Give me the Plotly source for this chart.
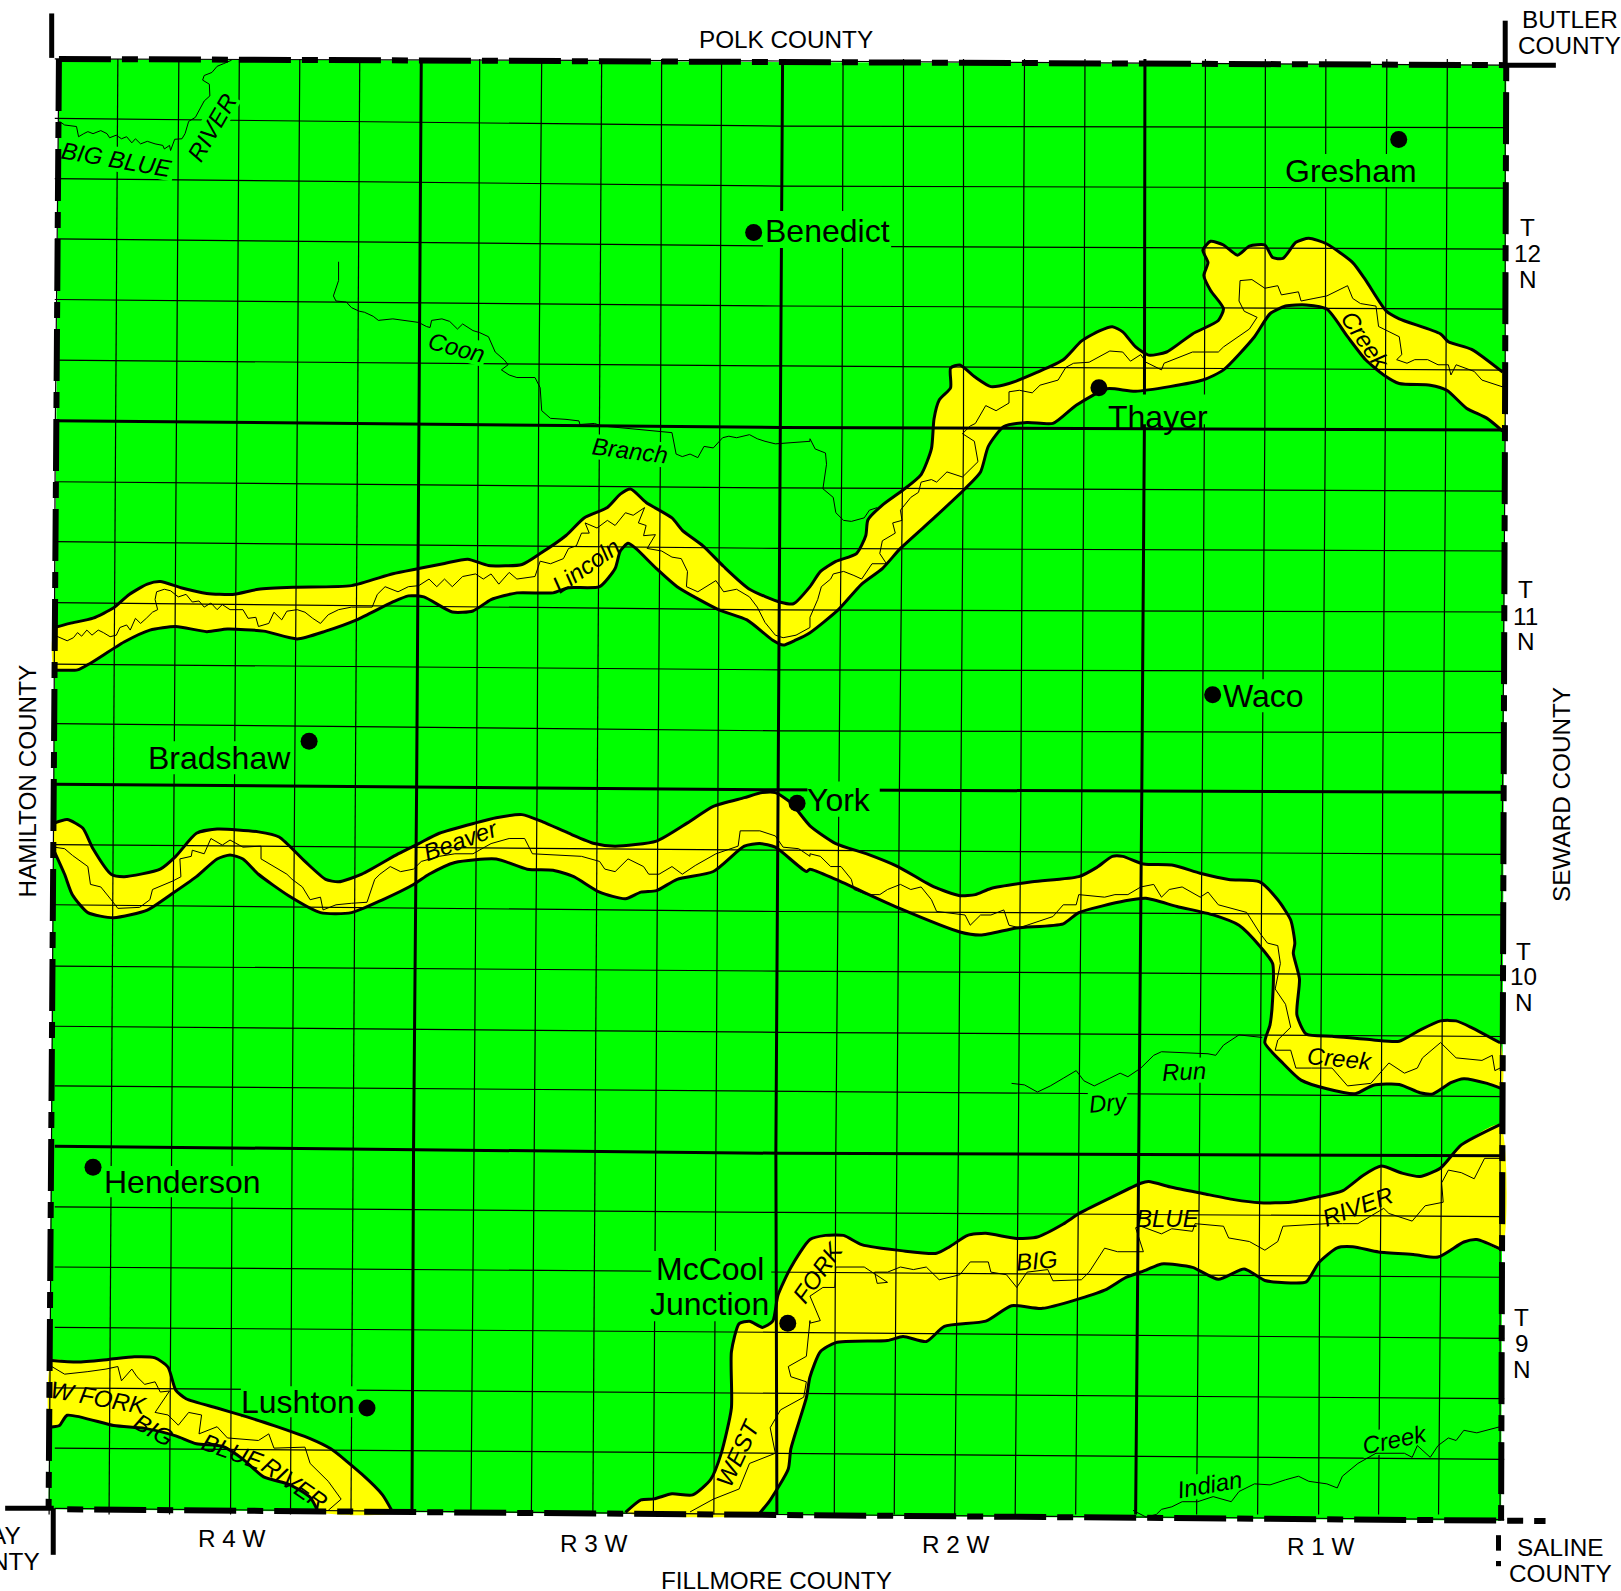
import math
import plotly.graph_objects as go

# Map units: 1568 x 1539 across the 1621 x 1591 picture
MAP_W, MAP_H = 1568, 1539
COUNTY = [(57, 57), (1457, 63), (1452, 1471), (47, 1460)]
GREEN, YELLOW = "#00ff00", "#ffff00"

# Section lines: x of each north-south line at five heights
NS_LEVELS = [57, 410, 762, 1114, 1465]
NS_X = [
    [57, 53.5, 52, 50, 47.5],
    [114, 112, 109.5, 107.5, 105.5],
    [173, 170.5, 168, 166, 164],
    [231.5, 229, 226.5, 224.5, 223],
    [290, 287.5, 285.5, 282.5, 281],
    [348, 346, 344, 341.5, 339.5],
    [407.5, 405.5, 403, 400, 398.5],
    [464, 462.5, 461, 458.5, 455.5],
    [524, 521, 519.5, 516.5, 514],
    [582, 580, 578, 575.5, 573.5],
    [640, 639, 636.5, 634, 632],
    [698, 696.5, 694.5, 692.5, 690.5],
    [757, 755, 753, 750.5, 751.5],
    [815.5, 814.5, 811.5, 808.5, 807],
    [874, 873.5, 870, 867.5, 865],
    [932, 932, 929.5, 927, 923.5],
    [991, 989.5, 987.5, 985, 982],
    [1049.5, 1048.5, 1046.5, 1043.5, 1040.5],
    [1107.5, 1107, 1104.5, 1101.5, 1098.5],
    [1166, 1165, 1163, 1160.5, 1157.5],
    [1224, 1223.5, 1221, 1219, 1216.5],
    [1282.5, 1282, 1279.5, 1277, 1275.5],
    [1341.5, 1340, 1337.5, 1336, 1333.5],
    [1400, 1398.5, 1396, 1394.5, 1391.5],
    [1456, 1456, 1453.5, 1451, 1451],
]
NS_THICK = [6, 12, 18]

# East-west lines: y at the west edge, the middle, and the east edge
EW_WEST = [57, 114.5, 172.7, 231, 289.7, 348.4, 407, 466, 524, 583, 642.5, 700, 758.5,
           817, 875.2, 934.5, 992.7, 1050.4, 1108.7, 1167.4, 1225.6, 1284, 1342.6, 1400.8, 1459]
EW_MID = [59, 122, 180, 238, 296, 354, 413.5, 472, 530.5, 590, 648, 707, 764,
          822.4, 881.7, 939.4, 998.6, 1055.4, 1115.6, 1172.8, 1230.6, 1288.8, 1348, 1405.8, 1465]
EW_EAST = [63, 123.4, 182, 241, 299, 358, 416, 475, 533, 592, 649.5, 708.7, 766.4,
           826.4, 885, 943.3, 1002.6, 1060.8, 1118, 1176.8, 1235.5, 1294.7, 1353, 1411.7, 1470]
EW_THICK = [6, 12, 18]

# Bottomland belts
LINCOLN_UP = [(52.5,607),(67.5,603),(90,598),(110,588),(125,575),(142.5,565),(155,562.6),(175,568.5),(200,574),(225,575),(250,570),(285,568),(340,566.5),(380,555),(405,550),(430,545),(452.5,541),(472.5,547),(505,546),(522.5,535.5),(547.5,518),(565,501),(587.5,491),(600,478),(610,473),(625,486),(650,501),(660,513),(680,528),(700,548),(725,570),(755,582.5),(767.5,584),(783.5,567.5),(793.5,553),(808.5,543),(828.5,535.5),(837.5,518),(839.5,503),(853.5,488.6),(873.5,474),(891,459),(901,434),(903.5,405),(908.5,387),(919.5,375),(919.5,356),(928.5,353),(943.5,365),(958.5,374),(976,371),(1003.5,360),(1028.5,348),(1046,330),(1063.5,320),(1076,316),(1086,321),(1098.5,335.6),(1111,343.5),(1128.5,340.5),(1153.5,323),(1178.5,310),(1183.5,298.6),(1171,281),(1164.5,266.5),(1168.5,254),(1163.5,242),(1171,233.4),(1183.5,237),(1197,246.8),(1208.5,238),(1223.5,237),(1231,249),(1241,250),(1253.5,234.4),(1266,230.5),(1283.5,236),(1308.5,254),(1321,271),(1341,301),(1353.5,308.4),(1393.5,323),(1401,330.6),(1423.5,338),(1453.5,360)]
LINCOLN_LOW = [(1453.5,417),(1438.5,404.7),(1418.5,394.8),(1399.5,377.5),(1383.5,372.6),(1353.5,371),(1338.5,362.7),(1321,348),(1303.5,325.7),(1283.5,299),(1263.5,295),(1243.5,296),(1228.5,303.5),(1213.5,325.7),(1183.5,357.8),(1163.5,367.6),(1098.5,378.5),(1071,376),(1041,392),(1018.5,409.6),(993.5,408.6),(971,412.6),(956,431.8),(948.5,456.5),(933.5,472.8),(903.5,501),(871,530.5),(853.5,550),(833.5,565),(811,589.7),(783.5,612),(770,619),(757.5,624),(747.5,619.3),(722.5,599.6),(695,589.7),(655,567.5),(635,550),(615,530.5),(607.5,525.6),(600,533),(595,550),(580,567.5),(550,568.5),(535,573.5),(500,573.5),(475,580),(457.5,591),(437.5,592),(410,577.4),(395,576.4),(380,582.3),(345,599.6),(315,610.5),(287.5,618),(255,610.5),(220,608.5),(200,611),(170,606),(145,609.5),(120,621),(87.5,641.5),(75,648),(52.5,648)]
BEAVER_UP = [(52.5,796.3),(65,792.8),(80,801),(90,821),(107.5,845.6),(120,848),(155,840.7),(170,828.4),(190,806),(210,802),(250,804.7),(270,809.6),(295,833.3),(315,850.6),(327.5,853),(350,845.6),(385,826),(405,816),(425,806),(460,796),(480,791),(505,788),(525,795),(550,806),(575,816),(595,818.5),(635,813.6),(665,796),(690,780),(720,771.6),(737.5,766.7),(750,766.7),(765,776.5),(783.5,798.8),(808.5,816),(838.5,826),(868.5,838.3),(903.5,858),(928.5,866.4),(943.5,865.4),(958.5,859.4),(998.5,853),(1043.5,848),(1061,839),(1076,828.4),(1086,828.4),(1106,835.8),(1133.5,836.8),(1161,844.7),(1188.5,850.7),(1218.5,853),(1236,870.4),(1248.5,890),(1252.5,912.4),(1251,922),(1257,947),(1254.5,981.6),(1263.5,1000.3),(1288.5,1002.4),(1328.5,1006),(1353.5,1007.2),(1373.5,996.4),(1393.5,987.5),(1408.5,987.5),(1423.5,994),(1451,1008.7)]
BEAVER_LOW = [(1452.5,1053),(1438.5,1048),(1416,1043.4),(1403.5,1047.3),(1386,1058.2),(1373.5,1057),(1353.5,1049),(1328.5,1049.7),(1311,1058),(1283.5,1053.2),(1258.5,1044.8),(1241,1028.5),(1223.5,1008.7),(1228.5,991.4),(1231,966.7),(1231,932),(1218.5,915),(1198.5,895),(1173.5,885),(1138.5,876.8),(1108.5,869),(1088.5,871.4),(1043.5,882.8),(1028.5,893.6),(983.5,897.6),(948.5,904.5),(928.5,901.5),(868.5,878),(808.5,850.7),(783.5,840.8),(780,843),(750,819.5),(735,816),(720,818.5),(690,843),(655,850.6),(635,861.5),(620,863),(605,869.4),(580,863),(555,848),(535,841.8),(510,840.8),(480,830.9),(440,834.3),(415,845.7),(400,855.6),(370,870.4),(340,882.8),(310,882.8),(280,867),(250,845.7),(235,830.9),(222.5,827),(210,830.9),(190,848),(165,865.5),(142.5,880.3),(110,887.7),(85,882.8),(70,865.5),(62.5,845.7),(52.5,823.5)]
WESTFORK_UP = [(605,1463),(620,1450.9),(632.5,1449.9),(650,1445),(670,1446),(687.5,1431),(697.5,1406.4),(707.5,1362),(707.5,1307.6),(715,1280.4),(725,1278),(737.5,1284),(747.5,1278),(752.5,1253),(765,1226),(783.5,1199),(798.5,1195),(816,1195),(833.5,1204),(873.5,1210),(906,1212.3),(918.5,1206),(936,1195),(953.5,1193),(983.5,1198),(1003.5,1196.5),(1028.5,1184),(1043.5,1174),(1073.5,1159),(1103.5,1144.6),(1111,1143),(1133.5,1148.5),(1163.5,1154.5),(1193.5,1160.4),(1218.5,1163.4),(1248.5,1163),(1273.5,1158),(1298.5,1152),(1318.5,1137),(1336,1128),(1356,1134.7),(1373.5,1138),(1393.5,1129.8),(1413.5,1107.5),(1451,1087.8)]
WESTFORK_LOW = [(1452.5,1208.8),(1428.5,1199),(1416,1201.4),(1391,1216),(1368.5,1213.7),(1333.5,1211),(1308.5,1206),(1293.5,1207),(1276,1221),(1263.5,1240),(1248.5,1241),(1223.5,1238.6),(1203.5,1227.6),(1178.5,1237.5),(1153.5,1226),(1123.5,1222.6),(1108.5,1228.6),(1088.5,1236),(1068.5,1248),(1008.5,1265.6),(978.5,1263),(953.5,1278),(913.5,1283),(896,1297.7),(873.5,1292.8),(858.5,1296.7),(808.5,1298.7),(793.5,1307.6),(783.5,1332),(780,1352),(765,1401.5),(762.5,1421),(745,1451),(734,1464.7)]
SWCORNER_UP = [(50,1316),(75,1317.5),(105,1315),(130,1312.5),(150,1313.5),(162.5,1322.4),(170,1344.6),(180,1353),(210,1362),(235,1369.4),(265,1379),(300,1391.6),(320,1401.5),(350,1426),(370,1446),(380,1463)]
SWCORNER_LOW = [(307.5,1462),(300,1448.4),(280,1436),(255,1428.6),(235,1411.4),(215,1399),(190,1396.6),(170,1389),(140,1381.7),(110,1379),(65,1369),(57.5,1379),(48.5,1380.6)]
BELTS = [(LINCOLN_UP, LINCOLN_LOW), (BEAVER_UP, BEAVER_LOW), (WESTFORK_UP, WESTFORK_LOW), (SWCORNER_UP, SWCORNER_LOW)]

# Streams, as (panel origin, points read in half-scale panel units)
NW, NE, SW, SE = (0, 0), (783.5, 0), (0, 764.2), (783.5, 764.2)
STREAM_BIGBLUE = [(NW, [(115,238),(125,245),(148,248),(152,268),(162,262),(170,258),(180,262),(195,256),(207,262),(212,270),(225,265),(235,272),(245,268),(255,280),(262,272),(272,282),(285,277),(300,282),(315,285),(318,292),(328,285),(330,295),(338,273),(352,272),(358,262),(365,238),(378,230),(388,212),(395,198),(406,188),(405,165),(392,157),(395,148),(410,142),(420,130),(432,125),(448,118)])]
STREAM_COON = [(NW, [(655,513),(655,550),(645,580),(650,590),(670,592),(680,603),(695,610),(705,612),(722,620),(732,628),(760,625),(810,632),(825,640),(832,642),(835,628),(855,625),(870,630),(885,645),(895,635),(915,648),(928,652),(945,660),(958,690),(975,705),(983,715),(970,725),(985,735),(1000,740),(1035,740),(1045,760),(1048,805),(1065,820),(1095,822),(1120,825),(1122,832),(1150,830),(1165,835),(1195,838),(1240,842),(1300,848),(1308,890),(1320,895),(1335,890),(1350,897),(1362,875),(1380,878),(1398,858),(1410,855),(1425,858),(1450,852),(1465,860),(1480,865),(1500,870),(1567,865)]),
               (NE, [(0,860),(10,880),(30,888),(32,910),(25,958),(45,975),(50,1005),(65,1020),(80,1022),(105,1015),(115,1000),(130,995)])]
STREAM_LINCOLN = [(NW, [(105,1245),(118,1250),(130,1256),(142,1250),(150,1240),(158,1247),(168,1235),(178,1245),(190,1235),(200,1240),(213,1248),(225,1245),(232,1230),(245,1225),(252,1235),(262,1212),(272,1222),(283,1212),(295,1200),(305,1195),(300,1175),(303,1160),(318,1155),(330,1158),(345,1170),(360,1165),(372,1180),(385,1178),(395,1190),(408,1182),(420,1195),(430,1185),(445,1195),(470,1195),(480,1212),(495,1210),(500,1228),(520,1222),(530,1200),(545,1215),(555,1198),(575,1195),(590,1200),(605,1212),(620,1222),(635,1205),(655,1195),(680,1190),(720,1190),(730,1165),(745,1150),(770,1160),(790,1150),(810,1148),(830,1135),(845,1150),(860,1135),(875,1150),(895,1130),(920,1125),(935,1135),(950,1125),(965,1145),(985,1122),(1000,1135),(1035,1130),(1045,1100),(1065,1105),(1090,1095),(1100,1075),(1115,1070),(1125,1045),(1140,1045),(1132,1025),(1155,1035),(1175,1020),(1190,1030),(1210,1005),(1225,1010),(1247,995),(1235,1025),(1250,1030),(1245,1050),(1268,1048),(1252,1075),(1280,1080),(1300,1092),(1318,1095),(1330,1120),(1328,1150),(1350,1160),(1385,1138),(1400,1160),(1425,1155),(1450,1170),(1465,1190),(1480,1220),(1500,1245),(1515,1250),(1540,1245),(1567,1230)]),
                  (NE, [(0,1210),(15,1175),(22,1150),(40,1135),(45,1125),(65,1120),(85,1128),(100,1135),(120,1105),(148,1105),(135,1085),(140,1060),(165,1045),(160,1025),(178,1020),(175,1000),(195,975),(210,965),(215,945),(235,940),(245,945),(265,925),(295,935),(325,905),(318,865),(295,850),(310,835),(320,830),(340,795),(360,805),(385,790),(385,768),(405,765),(430,770),(445,755),(480,745),(495,720),(510,712),(540,710),(580,688),(605,690),(620,708),(640,695),(650,710),(680,725),(685,712),(740,690),(790,690),(800,680),(850,645),(865,622),(840,610),(830,590),(832,550),(855,548),(880,565),(905,560),(912,578),(945,572),(950,590),(975,585),(1000,580),(1040,560),(1050,585),(1065,595),(1095,600),(1100,640),(1140,660),(1145,695),(1135,705),(1155,712),(1170,705),(1195,705),(1215,715),(1235,715),(1240,735),(1250,715),(1285,728),(1300,745),(1345,760)])]
STREAM_BEAVER = [(SW, [(105,112),(125,115),(140,128),(170,150),(175,185),(195,190),(215,215),(228,232),(270,230),(290,215),(295,195),(320,185),(335,178),(350,170),(348,135),(370,130),(372,118),(395,125),(408,95),(430,108),(445,98),(470,112),(505,110),(505,135),(530,150),(555,165),(565,175),(585,190),(600,215),(620,210),(625,235),(650,225),(680,222),(710,220),(725,175),(735,165),(755,150),(775,160),(800,155),(815,140),(850,130),(880,125),(915,125),(950,105),(985,95),(1015,95),(1030,125),(1080,128),(1125,130),(1160,140),(1170,155),(1190,160),(1215,135),(1245,150),(1255,165),(1275,165),(1300,150),(1320,165),(1345,148),(1385,125),(1428,110),(1432,80),(1470,80),(1500,90),(1515,112),(1545,115),(1567,130)]),
                 (SE, [(0,125),(20,130),(40,150),(60,150),(80,175),(85,195),(110,205),(135,205),(150,195),(175,185),(195,195),(215,190),(235,215),(245,238),(300,245),(310,265),(330,245),(350,245),(375,235),(385,265),(405,270),(470,248),(490,225),(515,225),(520,205),(570,210),(590,205),(615,205),(640,190),(665,185),(680,210),(695,195),(720,190),(755,210),(770,200),(790,225),(845,240),(870,280),(885,300),(905,305),(910,340),(900,390),(920,420),(930,465),(905,490),(900,510),(930,510),(940,545),(970,545),(1010,545),(1040,580),(1085,575),(1120,535),(1150,555),(1175,545),(1185,525),(1220,495),(1250,525),(1300,530),(1320,520),(1325,550),(1335,545)])]
STREAM_DRY = [(SE, [(390,575),(415,578),(440,592),(465,580),(490,565),(515,550),(530,570),(550,580),(580,565),(600,555),(615,562),(640,545),(665,520),(680,513),(770,517),(785,520),(800,500),(830,480),(875,485)])]
STREAM_BLUE = [(SE, [(1335,722),(1305,722),(1285,762),(1260,750),(1235,745),(1222,770),(1225,808),(1190,815),(1165,845),(1145,838),(1120,830),(1110,820),(1060,850),(1030,850),(1000,850),(915,855),(905,885),(880,902),(850,885),(810,878),(800,855),(745,850),(740,865),(700,860),(680,870),(640,855),(630,858),(645,905),(595,905),(570,898),(540,945),(525,960),(470,962),(460,940),(420,945),(400,975),(380,950),(350,945),(345,925),(310,925),(290,950),(250,960),(225,935),(200,940),(175,935),(150,945),(125,945),(130,967),(150,965),(105,935),(90,935),(50,935),(48,975),(25,975),(0,992),(20,1040),(0,1045)]),
               (SW, [(1567,1040),(1560,1110),(1525,1130),(1530,1150),(1560,1160),(1555,1190),(1510,1215),(1490,1250),(1500,1300),(1450,1320),(1430,1370),(1380,1390),(1335,1415)])]
STREAM_WFORK = [(SW, [(100,1130),(125,1145),(170,1140),(205,1135),(228,1130),(235,1158),(255,1135),(265,1150),(280,1165),(300,1160),(310,1180),(328,1178),(300,1220),(325,1225),(345,1245),(365,1220),(390,1225),(385,1262),(420,1248),(440,1270),(500,1275),(520,1262),(530,1290),(590,1288),(600,1320),(635,1355),(660,1390),(635,1412)])]
STREAM_INDIAN = [(SE, [(625,1412),(650,1425),(670,1420),(680,1410),(700,1405),(720,1395),(750,1395),(780,1385),(815,1395),(830,1375),(860,1360),(890,1362),(920,1352),(945,1345),(965,1355),(1000,1360),(1020,1368),(1030,1345),(1060,1320),(1095,1300),(1150,1300),(1165,1308),(1175,1285),(1200,1308),(1215,1285),(1235,1270),(1250,1275),(1265,1255),(1290,1260),(1335,1248)])]
STREAMS = [STREAM_BIGBLUE, STREAM_COON, STREAM_LINCOLN, STREAM_BEAVER, STREAM_DRY, STREAM_BLUE, STREAM_WFORK, STREAM_INDIAN]

# Towns: name, label x, label y, dot x, dot y
TOWNS = [
    ("Gresham", 1307, 165, 1353, 135), ("Benedict", 800, 223, 729, 225),
    ("Thayer", 1120, 403, 1063, 375), ("Waco", 1222, 673, 1173, 672),
    ("Bradshaw", 212, 733, 299, 717), ("York", 812, 774, 771, 777),
    ("Henderson", 177, 1143, 90, 1129), ("McCool", 687, 1228, 762, 1280),
    ("Lushton", 288, 1356, 355, 1362),
]
EXTRA_TOWN_LINES = [("Junction", 686, 1261)]

# Plain labels: text, x, y, angle
PLAIN = [
    ("POLK COUNTY", 760, 38, 0), ("FILLMORE COUNTY", 751, 1529, 0),
    ("BUTLER", 1519, 19, 0), ("COUNTY", 1518, 44, 0),
    ("HAMILTON COUNTY", 27, 755, -90), ("SEWARD COUNTY", 1511, 769, -90),
    ("SALINE", 1509, 1497, 0), ("COUNTY", 1509, 1522, 0),
    ("T", 1478, 220, 0), ("12", 1478, 245, 0), ("N", 1478, 270, 0),
    ("T", 1476, 570, 0), ("11", 1476, 596, 0), ("N", 1476, 621, 0),
    ("T", 1474, 920, 0), ("10", 1474, 945, 0), ("N", 1474, 970, 0),
    ("T", 1472, 1274, 0), ("9", 1472, 1300, 0), ("N", 1472, 1325, 0),
    ("R 4 W", 224, 1488, 0), ("R 3 W", 575, 1493, 0), ("R 2 W", 925, 1494, 0), ("R 1 W", 1278, 1496, 0),
    ("AY", 5, 1485, 0), ("NTY", 15, 1510, 0),
]
# Water labels: text, x, y, angle
WATER = [
    ("BIG BLUE", 113, 154, 10), ("RIVER", 205, 123, -60), ("Coon", 442, 336, 15),
    ("Branch", 609, 436, 7), ("Lincoln", 567, 547, -35), ("Creek", 1321, 329, 55),
    ("Beaver", 445, 813, -20), ("Creek", 1296, 1024, 5), ("Run", 1145, 1036, -3),
    ("Dry", 1072, 1066, -5), ("BIG", 1003, 1219, -5), ("BLUE", 1130, 1179, 0),
    ("RIVER", 1313, 1167, -20), ("FORK", 791, 1231, -55), ("WEST", 714, 1405, -65),
    ("W FORK", 95, 1352, 10), ("BIG", 148, 1383, 30), ("BLUE", 225, 1404, 20),
    ("RIVER", 285, 1435, 35), ("Indian", 1170, 1436, -10), ("Creek", 1349, 1392, -12),
]
# Knock-outs round labels: cx, cy, width, height, angle
MASKS = [
    (1307, 165, 130, 32, 0), (800, 222, 124, 36, 0), (1120, 396, 98, 29, 0),
    (1223, 673, 80, 32, 0), (212, 733, 140, 32, 0), (816, 773, 70, 34, 0),
    (177, 1143, 152, 30, 0), (688, 1244, 116, 68, 0), (289, 1356, 112, 30, 0),
    (113, 154, 112, 24, 10), (205, 123, 72, 24, -60), (442, 336, 58, 24, 15),
    (609, 436, 78, 24, 7), (1145, 1036, 46, 24, -3), (1072, 1066, 38, 24, -5),
    (1170, 1436, 66, 24, -10), (1349, 1392, 66, 24, -12),
]

# Frame pieces
TICKS = [
    [(50, 13), (50, 56)], [(1456, 20), (1456, 63)], [(1456, 63), (1505, 63)],
    [(5, 1459), (52, 1459)], [(51.5, 1459), (51.5, 1504)],
    [(1449.5, 1485), (1449.5, 1500)], [(1449.5, 1510), (1449.5, 1515)],
]


def panel(points):
    xs, ys = [], []
    for origin, pts in points:
        for px, py in pts:
            xs.append(origin[0] + px * 0.5)
            ys.append(origin[1] + py * 0.4935)
    return xs, ys


fig = go.Figure()


def line(xs, ys, width, dash=None, color="black", smooth=False):
    style = dict(color=color, width=width, dash=dash)
    if smooth:
        style.update(shape="spline", smoothing=0.6)
    fig.add_trace(go.Scatter(x=xs, y=ys, mode="lines", hoverinfo="skip", line=style))


def fill(pts, color, smooth=False):
    xs = [p[0] for p in pts] + [pts[0][0]]
    ys = [p[1] for p in pts] + [pts[0][1]]
    style = dict(width=0, color=color)
    if smooth:
        style.update(shape="spline", smoothing=0.6)
    fig.add_trace(go.Scatter(x=xs, y=ys, mode="lines", fill="toself", fillcolor=color,
                             hoverinfo="skip", line=style))


fill(COUNTY, GREEN)
for up, low in BELTS:
    fill(up + low, YELLOW, smooth=True)

for i, col in enumerate(NS_X):
    line(col, NS_LEVELS, 3.0 if i in NS_THICK else 1.2)
for i in range(len(EW_WEST)):
    mid_x = 755
    line([53, mid_x, 1455], [EW_WEST[i], EW_MID[i], EW_EAST[i]], 3.0 if i in EW_THICK else 1.2)

for cx, cy, w, h, ang in MASKS:
    a = math.radians(ang)
    c, s = math.cos(a), math.sin(a)
    corners = [(cx + dx * c - dy * s, cy + dx * s + dy * c)
               for dx, dy in [(-w / 2, -h / 2), (w / 2, -h / 2), (w / 2, h / 2), (-w / 2, h / 2)]]
    fill(corners, GREEN)

for stream in STREAMS:
    xs, ys = panel(stream)
    line(xs, ys, 1.0)

for up, low in BELTS:
    line([p[0] for p in up], [p[1] for p in up], 3, smooth=True)
    line([p[0] for p in low], [p[1] for p in low], 3, smooth=True)

# Frame
DASH = "52px,11px,16px,11px"
line([57, 1457], [57, 63], 6, DASH)
line([1457, 1452], [63, 1471], 6, "16px,11px,52px,11px")
line([57, 47], [57, 1460], 6, DASH)
line([65, 1495], [1460, 1471.3], 6, "16px,11px,52px,11px")
for seg in TICKS:
    line([p[0] for p in seg], [p[1] for p in seg], 5)

fig.add_trace(go.Scatter(x=[t[3] for t in TOWNS], y=[t[4] for t in TOWNS], mode="markers",
                         hoverinfo="skip", marker=dict(color="black", size=17)))

anns = []
for name, x, y, *_ in TOWNS:
    anns.append(dict(x=x, y=y, text=name, font=dict(size=32), textangle=0))
for name, x, y in EXTRA_TOWN_LINES:
    anns.append(dict(x=x, y=y, text=name, font=dict(size=32), textangle=0))
for name, x, y, ang in PLAIN:
    anns.append(dict(x=x, y=y, text=name, font=dict(size=24.3), textangle=ang))
for name, x, y, ang in WATER:
    anns.append(dict(x=x, y=y, text="<i>%s</i>" % name, font=dict(size=24), textangle=ang))
for a in anns:
    a.update(xref="x", yref="y", showarrow=False, xanchor="center", yanchor="middle")
    a["font"].update(family="Liberation Sans", color="black")

fig.update_layout(
    width=1621, height=1591, autosize=False, showlegend=False,
    margin=dict(l=0, r=0, t=0, b=0), paper_bgcolor="white", plot_bgcolor="white",
    xaxis=dict(range=[0, MAP_W], visible=False, fixedrange=True),
    yaxis=dict(range=[MAP_H, 0], visible=False, fixedrange=True),
    annotations=anns,
)
fig.write_html("out.html", config={"displayModeBar": False},
               post_script="document.body.style.margin='0';")
